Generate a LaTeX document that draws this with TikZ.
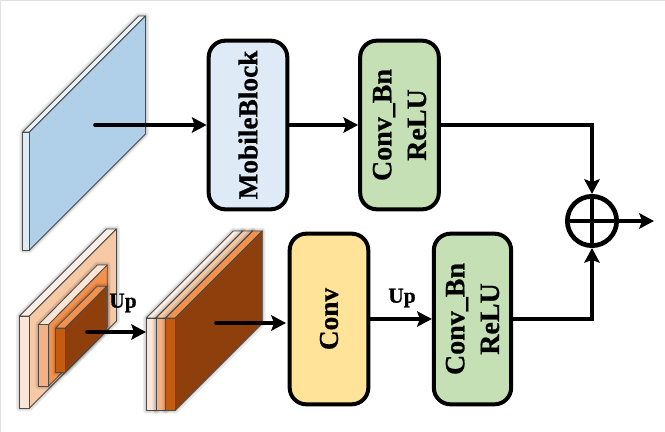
\documentclass[tikz,border=0pt]{standalone}
\usepackage{fontspec}
\setmainfont[BoldFeatures={FakeBold=0.6}]{Liberation Serif}
\usetikzlibrary{arrows.meta}
\definecolor{peachA}{HTML}{FBE5D6}
\definecolor{peachB}{HTML}{F7C9A5}
\definecolor{peachC}{HTML}{F4B183}
\definecolor{peachD}{HTML}{F4914C}
\definecolor{rustA}{HTML}{C55A11}
\definecolor{rustB}{HTML}{8E3F0C}
\definecolor{blueA}{HTML}{DEEBF7}
\definecolor{blueB}{HTML}{B0CFE9}
\definecolor{greenbox}{HTML}{C5E0B4}
\definecolor{yellowbox}{HTML}{FEE398}
\tikzset{
  x=.75pt, y=-.75pt,
  face/.style={draw=black!70, line width=.6pt, line join=round},
  halo/.style={draw=black, opacity=.07, line join=round},
  stagebox/.style={draw=black, line width=3pt, rounded corners=12.5pt, rotate=90,
    align=center, inner sep=0pt, font=\bfseries\fontsize{21}{26}\selectfont},
  flow/.style={line width=2.7pt, line cap=round, -{Stealth[length=11pt,width=11.5pt,inset=2pt]}},
  plain/.style={line width=2.7pt},
  uplabel/.style={font=\bfseries\fontsize{16}{18}\selectfont, inner sep=0pt},
  sumnode/.style={circle, draw=black, line width=3.5pt, minimum size=37pt, inner sep=0pt},
}
% A slab seen in oblique projection: front x1..x2, y1..y2, receding by (dx,dy)
\newcommand{\slab}[9]{%
  \foreach \w in {5pt,3pt,1.5pt}{
    \path[halo, line width=\w] (#1,#4) -- (#1,#3) -- ++(#5,-#6) -- ++(#2-#1,0) -- ++(0,#4-#3) -- (#2,#4) -- cycle;
  }
  \filldraw[face, fill=#8] (#1,#3) -- (#2,#3) -- ++(#5,-#6) -- ++(#1-#2,0) -- cycle;
  \filldraw[face, fill=#9] (#2,#3) -- ++(#5,-#6) -- ++(0,#4-#3) -- (#2,#4) -- cycle;
  \filldraw[face, fill=#7] (#1,#3) rectangle (#2,#4);
}
\begin{document}
\begin{tikzpicture}
\useasboundingbox (0,0) rectangle (665,432);
\fill[white] (0,0) rectangle (665,432);
\draw[black!12, line width=.8pt] (0.5,432) -- (0.5,0.5) -- (665,0.5);

% Input feature slab
\slab{22.7}{29.5}{132}{250}{116}{116}{blueA}{blueA!60!white}{blueB}

% Nested feature slabs
\slab{19.5}{29.5}{316}{408}{87}{87}{peachA}{peachA!60!white}{peachB}
\slab{38.7}{48.7}{324.5}{386}{58.6}{59.5}{peachC}{peachA}{peachD}
\slab{55.7}{65.3}{328}{372.3}{41.4}{41.7}{rustA}{peachD}{rustB}

% Stacked feature slabs
\slab{146.3}{156}{318}{410.3}{87}{87}{peachA}{peachA!70!white}{peachA}
\slab{156}{165.7}{318}{410.3}{87}{87}{peachC}{peachB}{peachC}
\slab{165.7}{175.3}{318}{410.3}{87}{87}{rustA}{peachD}{rustB}

% Processing stages
\node[stagebox, fill=blueA, minimum width=126.5pt, minimum height=59pt, font=\bfseries\fontsize{20.5}{26}\selectfont] (mobile) at (248,125) {MobileBlock};
\node[stagebox, fill=greenbox, minimum width=126.5pt, minimum height=59pt] (bnA) at (399.5,125) {Conv\_Bn\\ReLU};
\node[stagebox, fill=yellowbox, minimum width=128pt, minimum height=59pt, font=\bfseries\fontsize{20.5}{26}\selectfont] (conv) at (329,319) {Conv};
\node[stagebox, fill=greenbox, minimum width=128pt, minimum height=58pt] (bnB) at (472.5,319) {Conv\_Bn\\ReLU};

% Summation node
\node[sumnode] (sum) at (592,221) {};
\draw[plain] (sum.north) -- (sum.south);
\draw[plain] (sum.west) -- (sum.east);

% Free ends of the connectors
\coordinate (inA) at (95,125);
\coordinate (inB) at (87,332);
\coordinate (stackR) at (146,332);
\coordinate (inC) at (216,323);
\coordinate (convIn) at (286,323);
\coordinate (outEnd) at (654,221);

\draw[flow] (inA) -- (mobile.north |- inA);
\draw[flow] (mobile.south) -- (bnA.north);
\draw[flow] (bnA.south) -| (sum.north);
\draw[flow] (inB) -- (stackR);
\draw[flow] (inC) -- (convIn);
\draw[flow] (conv.south) -- (bnB.north);
\draw[flow] (bnB.south) -| (sum.south);
\draw[flow] (sum.east) -- (outEnd);

\node[uplabel] (upA) at (123,303) {Up};
\node[uplabel] (upB) at (402,298) {Up};
\end{tikzpicture}
\end{document}
